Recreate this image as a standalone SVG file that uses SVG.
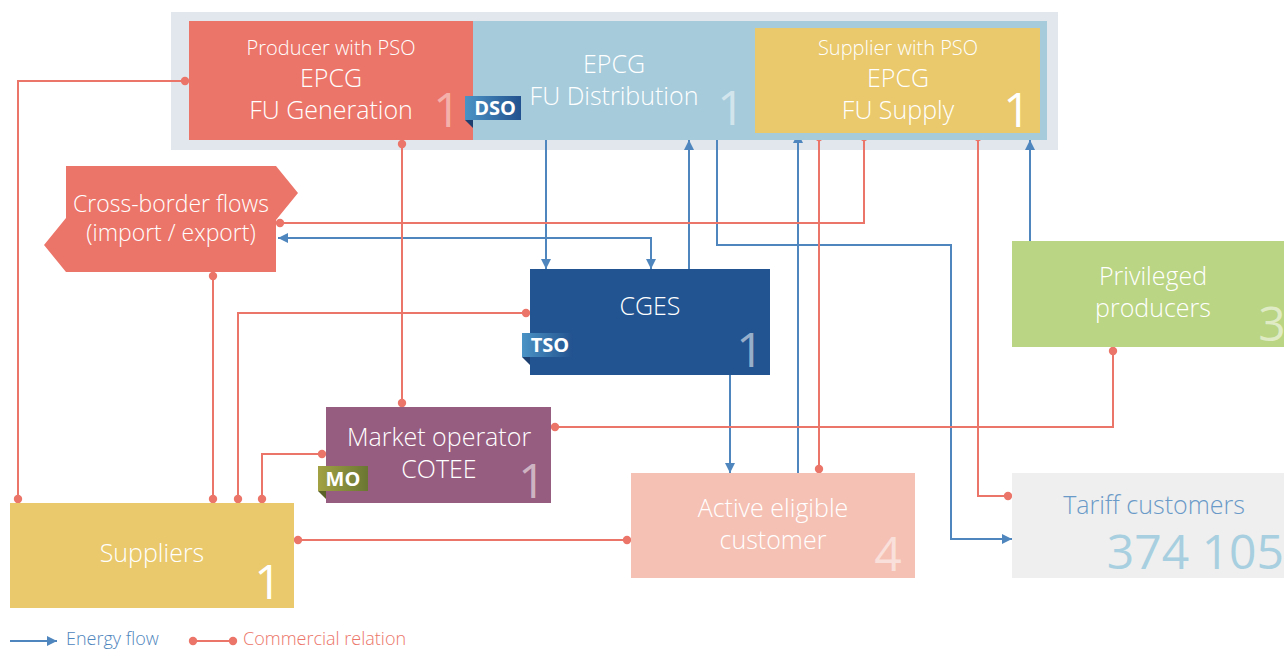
<svg xmlns="http://www.w3.org/2000/svg" width="1284" height="650" viewBox="0 0 1284 650">
<style>
text{font-family:"Open Sans","Noto Sans","Liberation Sans",sans-serif;font-weight:300;fill:#fff}
.t18{font-size:20px}
.t23{font-size:25px}
.t21{font-size:23px}
.num{font-size:48px;font-weight:400}
.tag{font-size:20px;font-weight:700}
.e{fill:none;stroke:#4f86bd;stroke-width:2}
.c{fill:none;stroke:#ec7569;stroke-width:2}
.ea{marker-end:url(#arr)}
.cd{marker-start:url(#dot);marker-end:url(#dot)}
</style>
<defs>
<marker id="arr" markerUnits="userSpaceOnUse" markerWidth="14" markerHeight="12" refX="10" refY="5" orient="auto">
<path d="M0,0 L10,5 L0,10 Z" fill="#4f86bd"/>
</marker>
<marker id="arr2" markerUnits="userSpaceOnUse" markerWidth="14" markerHeight="12" refX="0" refY="5" orient="auto">
<path d="M10,0 L0,5 L10,10 Z" fill="#4f86bd"/>
</marker>
<marker id="dot" markerUnits="userSpaceOnUse" markerWidth="10" markerHeight="10" refX="5" refY="5">
<circle cx="5" cy="5" r="4.2" fill="#ec7569"/>
</marker>
<linearGradient id="gBlue" x1="0" x2="1" y1="0" y2="0">
<stop offset="0" stop-color="#4b93c5"/><stop offset="1" stop-color="#22528f"/>
</linearGradient>
<linearGradient id="gOlive" x1="0" x2="1" y1="0" y2="0">
<stop offset="0" stop-color="#a2a244"/><stop offset="1" stop-color="#6a7632"/>
</linearGradient>
</defs>

<rect x="171" y="12" width="887" height="138" fill="#e1e7ec"/>

<g id="connectors">
<path class="e ea" d="M546,140 V269"/>
<path class="e" d="M278,238 H651 V269" marker-start="url(#arr2)" marker-end="url(#arr)"/>
<path class="e ea" d="M689,269 V140"/>
<path class="e ea" d="M717,140 V245 H951 V539 H1012"/>
<path class="e ea" d="M798,473 V133"/>
<path class="e ea" d="M730,375 V473"/>
<path class="e ea" d="M1030,241 V140"/>
<path class="c cd" d="M185,81 H18 V499"/>
<path class="c cd" d="M402,144 V403"/>
<path class="c cd" d="M864,137 V223 H280"/>
<path class="c cd" d="M819,137 V469"/>
<path class="c cd" d="M978,137 V496 H1008"/>
<path class="c cd" d="M526,313 H238 V499"/>
<path class="c cd" d="M213,276 V499"/>
<path class="c cd" d="M322,454 H262 V499"/>
<path class="c cd" d="M1113,351 V427 H555"/>
<path class="c cd" d="M298,540 H627"/>
</g>

<g id="distribution">
<rect x="473" y="21" width="574" height="119" fill="#a6cbdb"/>
<text class="t23" x="614" y="73" text-anchor="middle">EPCG</text>
<text class="t23" x="614" y="105" text-anchor="middle">FU Distribution</text>
<text class="num" x="731" y="125" text-anchor="middle" fill-opacity="0.5">1</text>
</g>

<g id="producer">
<rect x="189" y="21" width="284" height="119" fill="#ec7569"/>
<text class="t18" x="331" y="55" text-anchor="middle">Producer with PSO</text>
<text class="t23" x="331" y="87" text-anchor="middle">EPCG</text>
<text class="t23" x="331" y="119" text-anchor="middle">FU Generation</text>
<text class="num" x="447" y="127" text-anchor="middle" fill-opacity="0.45">1</text>
</g>

<g id="dso-tag">
<polygon points="465,120 473,120 473,128" fill="#1d3f70"/>
<rect x="465" y="96" width="56" height="24" fill="url(#gBlue)"/>
<text class="tag" x="495" y="115" text-anchor="middle">DSO</text>
</g>

<g id="supply">
<rect x="755" y="28" width="285" height="105" fill="#e9c96c"/>
<text class="t18" x="898" y="55" text-anchor="middle">Supplier with PSO</text>
<text class="t23" x="898" y="87" text-anchor="middle">EPCG</text>
<text class="t23" x="898" y="119" text-anchor="middle">FU Supply</text>
<text class="num" x="1017" y="127" text-anchor="middle">1</text>
</g>

<g id="cross-border">
<polygon points="66,166 276,166 298,193 276,220 276,272 66,272 44,245 66,218" fill="#ec7569"/>
<text class="t21" x="171" y="212" text-anchor="middle">Cross-border flows</text>
<text class="t21" x="171" y="241" text-anchor="middle">(import / export)</text>
</g>

<g id="cges">
<rect x="530" y="269" width="240" height="106" fill="#225491"/>
<text class="t23" x="650" y="315" text-anchor="middle">CGES</text>
<text class="num" x="750" y="367" text-anchor="middle" fill-opacity="0.55">1</text>
<polygon points="522,357 530,357 530,365" fill="#1d3f70"/>
<rect x="522" y="333" width="51" height="24" fill="url(#gBlue)"/>
<text class="tag" x="550" y="352" text-anchor="middle">TSO</text>
</g>

<g id="privileged">
<rect x="1012" y="241" width="272" height="106" fill="#bad583"/>
<text class="t23" x="1153" y="285" text-anchor="middle">Privileged</text>
<text class="t23" x="1153" y="317" text-anchor="middle">producers</text>
<text class="num" x="1272" y="341" text-anchor="middle" fill-opacity="0.55">3</text>
</g>

<g id="market-operator">
<rect x="326" y="407" width="225" height="96" fill="#975d80"/>
<text class="t23" x="439" y="446" text-anchor="middle">Market operator</text>
<text class="t23" x="439" y="478" text-anchor="middle">COTEE</text>
<text class="num" x="532" y="498" text-anchor="middle" fill-opacity="0.55">1</text>
<polygon points="318,491 326,491 326,499" fill="#5b6228"/>
<rect x="318" y="466" width="50" height="25" fill="url(#gOlive)"/>
<text class="tag" x="343" y="486" text-anchor="middle">MO</text>
</g>

<g id="suppliers">
<rect x="10" y="503" width="284" height="105" fill="#e9c96c"/>
<text class="t23" x="152" y="562" text-anchor="middle">Suppliers</text>
<text class="num" x="268" y="599" text-anchor="middle">1</text>
</g>

<g id="active-eligible">
<rect x="631" y="473" width="284" height="105" fill="#f5c1b5"/>
<text class="t23" x="773" y="517" text-anchor="middle">Active eligible</text>
<text class="t23" x="773" y="549" text-anchor="middle">customer</text>
<text class="num" x="888" y="571" text-anchor="middle" fill-opacity="0.5">4</text>
</g>

<g id="tariff">
<rect x="1012" y="473" width="272" height="105" fill="#efefef"/>
<text class="t23" x="1154" y="514" text-anchor="middle" style="fill:#6a9ac8">Tariff customers</text>
<text class="num" x="1284" y="569" text-anchor="end" style="fill:#a7cfdf">374 105</text>
</g>

<g id="legend">
<path class="e ea" d="M10,641 H57"/>
<text x="66" y="645" style="fill:#4f86bd;font-size:18px">Energy flow</text>
<path class="c cd" d="M193,641 H233"/>
<text x="243" y="645" style="fill:#ec7569;font-size:18px">Commercial relation</text>
</g>
</svg>
